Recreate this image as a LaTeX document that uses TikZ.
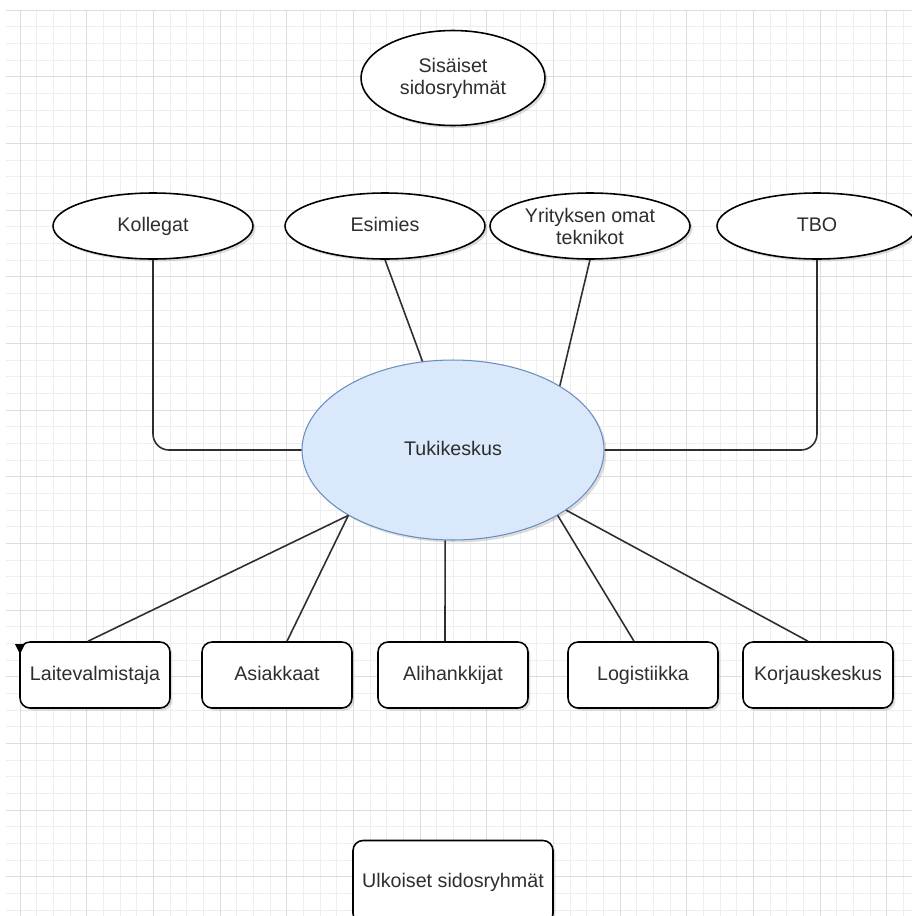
\documentclass[tikz,border=0pt]{standalone}
\usepackage{fontspec}
\setmainfont{Liberation Sans}
\usetikzlibrary{shapes.geometric,shadows}
\definecolor{gridminor}{HTML}{EEEEEE}
\definecolor{gridmajor}{HTML}{DDDDDD}
\definecolor{tukifill}{HTML}{DAE8FC}
\definecolor{tukidraw}{HTML}{6C8EBF}
\definecolor{ink}{HTML}{2E2E2E}
\begin{document}
\begin{tikzpicture}[x=0.02cm, y=-0.02cm,
    varjo/.style={drop shadow={shadow xshift=0.05cm, shadow yshift=-0.05cm, opacity=0.22, fill=black!60}},
    yksirivi/.style={text height=1.6ex, text depth=0.45ex},
    soikio/.style={ellipse, draw=black, line width=0.9pt, fill=white, varjo, inner sep=0pt,
        minimum width=4cm, minimum height=1.32cm, align=center,
        font=\fontsize{11.2pt}{12.5pt}\selectfont, text=ink},
    laatikko/.style={rectangle, rounded corners=0.2cm, draw=black, line width=0.9pt, fill=white, varjo,
        minimum width=3cm, minimum height=1.32cm, yksirivi, font=\fontsize{11.2pt}{12.5pt}\selectfont, text=ink},
    viiva/.style={draw=ink, line width=0.9pt}]
\useasboundingbox (0,0) rectangle (912,916);
\clip (0,0) rectangle (912,916);
\fill[white] (0,0) rectangle (912,916);
\foreach \k in {0,...,53}
    \draw[gridminor, line width=0.5pt] (20+16.667*\k,10) -- (20+16.667*\k,916);
\foreach \k in {0,...,54}
    \draw[gridminor, line width=0.5pt] (6,10+16.667*\k) -- (912,10+16.667*\k);
\foreach \k in {0,...,13} {
    \draw[gridmajor, line width=0.5pt] (20+66.667*\k,10) -- (20+66.667*\k,916);
    \draw[gridmajor, line width=0.5pt] (6,10+66.667*\k) -- (912,10+66.667*\k);
}

\node[soikio, minimum width=3.68cm, minimum height=1.9cm] (sisaiset) at (453,78) {Sisäiset\\sidosryhmät};
\node[soikio, yksirivi] (kollegat) at (153,226) {Kollegat};
\node[soikio, yksirivi] (esimies) at (385,226) {Esimies};
\node[soikio] (teknikot) at (590,226) {Yrityksen omat\\teknikot};
\node[soikio, yksirivi] (tbo) at (817,226) {TBO};
\node[soikio, yksirivi, fill=tukifill, draw=tukidraw, line width=0.6pt, minimum width=6.04cm, minimum height=3.6cm] (tuki) at (453,450) {Tukikeskus};

\node[laatikko] (laite) at (95,675) {Laitevalmistaja};
\node[laatikko] (asiakkaat) at (277,675) {Asiakkaat};
\node[laatikko] (alihankkijat) at (453,675) {Alihankkijat};
\node[laatikko] (logistiikka) at (643,675) {Logistiikka};
\node[laatikko] (korjaus) at (818,675) {Korjauskeskus};
\node[laatikko, minimum width=4cm, minimum height=1.66cm] (ulkoiset) at (453,882) {Ulkoiset sidosryhmät};

\draw[viiva, rounded corners=0.32cm] (kollegat.south) |- (tuki.west);
\draw[viiva, rounded corners=0.32cm] (tbo.south) |- (tuki.east);
\draw[viiva] (esimies.south) -- (tuki.109);
\draw[viiva] (teknikot.south) -- (tuki.31.5);
\draw[viiva] (tuki.212) -- ([xshift=-0.14cm]laite.north);
\draw[viiva] (tuki.212) -- ([xshift=0.2cm]asiakkaat.north);
\draw[viiva] (tuki.-95) -- ([xshift=-0.16cm]alihankkijat.north);
\draw[viiva] (tuki.-32) -- ([xshift=-0.18cm]logistiikka.north);
\draw[viiva] (tuki.-28.5) -- ([xshift=-0.2cm]korjaus.north);
\fill[black] (15,644) -- (25,644) -- (20,654) -- cycle;
\end{tikzpicture}
\end{document}
